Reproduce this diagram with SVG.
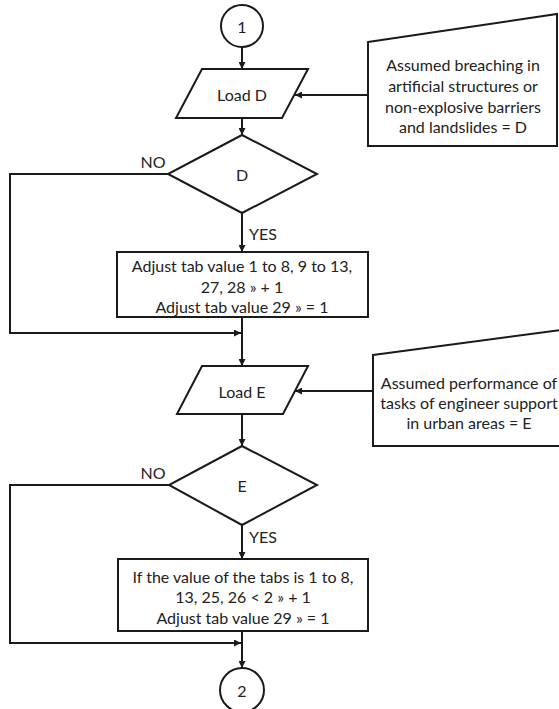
<svg xmlns="http://www.w3.org/2000/svg" width="559" height="709" viewBox="0 0 559 709">
  <defs>
    <marker id="arrow" viewBox="0 0 10 10" refX="10" refY="5" markerWidth="7" markerHeight="7" markerUnits="userSpaceOnUse" orient="auto">
      <path d="M0,0 L10,5 L0,10 Z" fill="#1a1a1a"/>
    </marker>
    <style>
      .shape { fill: #ffffff; stroke: #1a1a1a; stroke-width: 2; }
      .conn { fill: none; stroke: #1a1a1a; stroke-width: 2; marker-end: url(#arrow); }
      .label { font-family: Lato, "Open Sans", "Liberation Sans", sans-serif; font-size: 16px; fill: #222222; text-anchor: middle; dominant-baseline: central; }
      .side { text-anchor: start; }
    </style>
  </defs>
  <rect width="559" height="709" fill="#ffffff"/>

  <!-- connectors -->
  <g id="connectors">
    <path class="conn" d="M242,47 L242,69"/>
    <path class="conn" d="M242,118 L242,135"/>
    <path class="conn" d="M368,95 L295,95"/>
    <path class="conn" d="M242,213 L242,252"/>
    <path class="conn" d="M168,174 L10,174 L10,333 L241,333"/>
    <path class="conn" d="M242,317 L242,366"/>
    <path class="conn" d="M373,391 L295,391"/>
    <path class="conn" d="M242,414 L242,446"/>
    <path class="conn" d="M169,485 L10,485 L10,643 L241,643"/>
    <path class="conn" d="M242,525 L242,559"/>
    <path class="conn" d="M242,631 L242,668"/>
  </g>

  <!-- start connector 1 -->
  <g id="connector-1">
    <circle class="shape" cx="242" cy="26" r="21"/>
    <text class="label" x="242" y="26">1</text>
  </g>

  <g id="load-d">
    <polygon class="shape" points="202,69 308,69 282,118 176,118"/>
    <text class="label" x="242" y="94">Load D</text>
  </g>

  <g id="note-d">
    <polygon class="shape" points="368,42 557,14 557,146 368,146"/>
    <text class="label" x="463" y="64">Assumed breaching in</text>
    <text class="label" x="463" y="85">artificial structures or</text>
    <text class="label" x="463" y="106">non-explosive barriers</text>
    <text class="label" x="463" y="126">and landslides = D</text>
  </g>

  <g id="decision-d">
    <polygon class="shape" points="242,135 317,174 242,213 168,174"/>
    <text class="label" x="242" y="174">D</text>
    <text class="label" x="153" y="161">NO</text>
    <text class="label side" x="249" y="233">YES</text>
  </g>

  <g id="adjust-d">
    <rect class="shape" x="117" y="252" width="251" height="65"/>
    <text class="label" x="242" y="265">Adjust tab value 1 to 8, 9 to 13,</text>
    <text class="label" x="242" y="286">27, 28 » + 1</text>
    <text class="label" x="242" y="306">Adjust tab value 29 » = 1</text>
  </g>

  <g id="load-e">
    <polygon class="shape" points="202,366 308,366 283,414 177,414"/>
    <text class="label" x="242" y="391">Load E</text>
  </g>

  <g id="note-e">
    <polygon class="shape" points="373,355 561,330 561,446 373,446"/>
    <text class="label" x="469" y="382">Assumed performance of</text>
    <text class="label" x="469" y="402">tasks of engineer support</text>
    <text class="label" x="469" y="422">in urban areas = E</text>
  </g>

  <g id="decision-e">
    <polygon class="shape" points="242,446 317,485 242,525 169,485"/>
    <text class="label" x="242" y="485">E</text>
    <text class="label" x="153" y="472">NO</text>
    <text class="label side" x="249" y="536">YES</text>
  </g>

  <g id="adjust-e">
    <rect class="shape" x="118" y="559" width="250" height="72"/>
    <text class="label" x="243" y="576">If the value of the tabs is 1 to 8,</text>
    <text class="label" x="243" y="596">13, 25, 26 &lt; 2 » + 1</text>
    <text class="label" x="243" y="617">Adjust tab value 29 » = 1</text>
  </g>

  <!-- end connector 2 -->
  <g id="connector-2">
    <circle class="shape" cx="242" cy="690" r="22"/>
    <text class="label" x="242" y="690">2</text>
  </g>
</svg>
